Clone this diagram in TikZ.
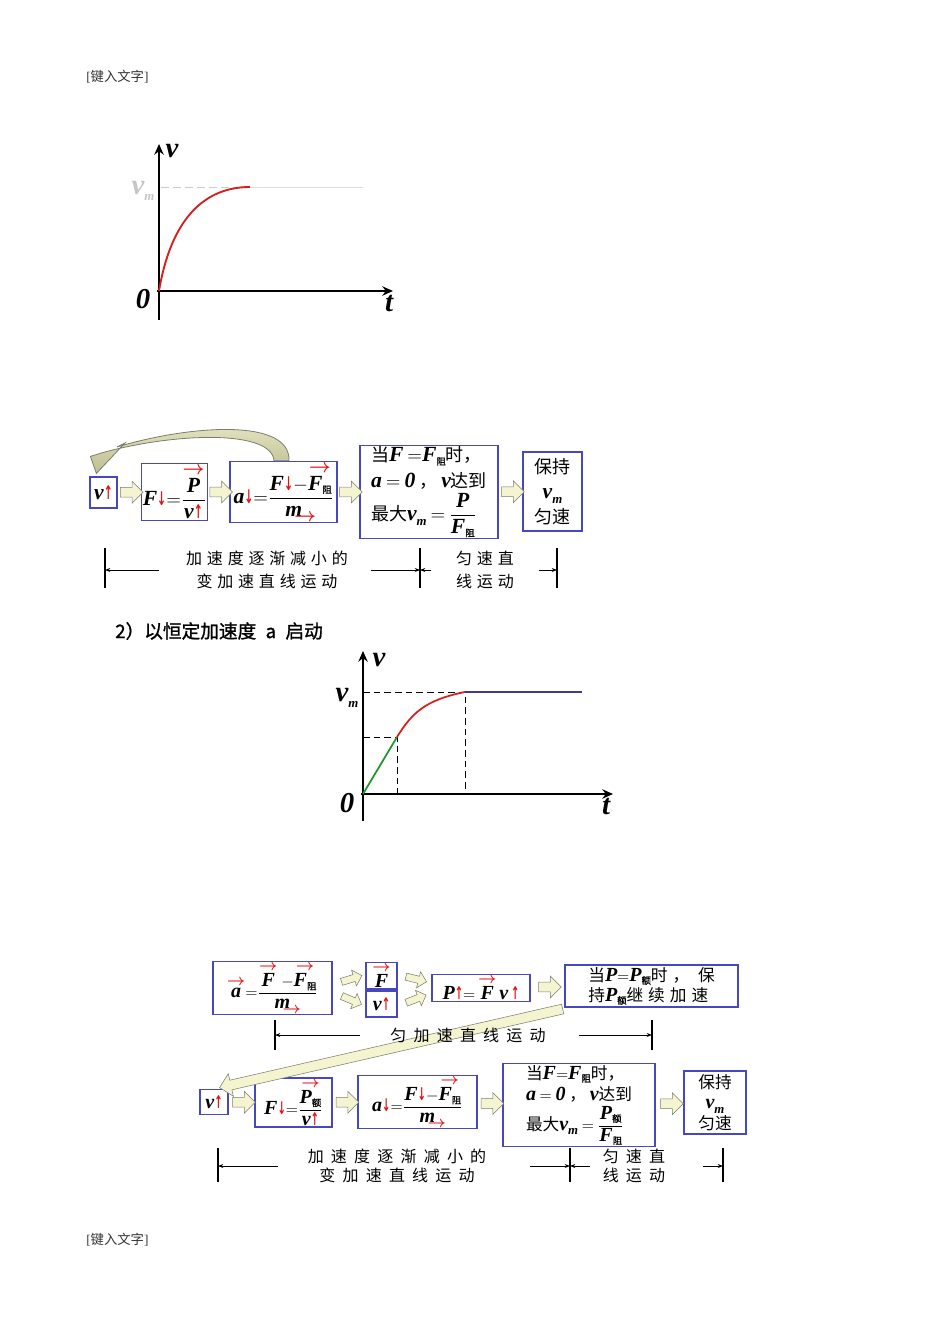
\documentclass[tikz,border=0pt]{standalone}
\usepackage{amsmath}
\usepackage{graphicx}
\usepackage{fontspec}
\setmainfont{Liberation Serif}
\newfontfamily\cjk{Noto Sans CJK SC}
\newfontfamily\cjkb[FakeBold=1.2]{Noto Sans CJK SC}
\newfontfamily\cjkw[LetterSpace=30]{Noto Sans CJK SC}
\newfontfamily\cjkww[LetterSpace=45]{Noto Sans CJK SC}
\newfontfamily\tms[Scale=1.2]{Liberation Serif}
\newfontfamily\djv{DejaVu Sans}
\usetikzlibrary{shapes.arrows}
\usetikzlibrary{arrows.meta}
\usetikzlibrary{calc}

\definecolor{boxblue}{RGB}{72,72,190}
\definecolor{arrred}{RGB}{225,20,20}
\definecolor{beige}{RGB}{244,244,208}
\definecolor{olivelt}{RGB}{232,232,200}
\definecolor{olivedk}{RGB}{190,190,145}
\definecolor{arrgray}{RGB}{125,125,110}
\definecolor{curvegreen}{RGB}{30,150,40}
\definecolor{curvered}{RGB}{215,30,30}
\definecolor{navyline}{RGB}{60,60,150}

% bold italic letters, red arrows, subscripts
\newcommand\bi[1]{{\tms\bfseries\itshape #1}}
\newcommand\arrup{\textcolor{arrred}{\scalebox{0.6}[1.05]{\djv\bfseries ↑}}}
\newcommand\arrdn{\textcolor{arrred}{\scalebox{0.6}[1.05]{\djv\bfseries ↓}}}
\newcommand\zuF{\raisebox{-0.3ex}{\fontsize{7}{7}\selectfont\cjkb 阻}}
\newcommand\ezi{\raisebox{-0.3ex}{\fontsize{7}{7}\selectfont\cjkb 额}}
\newcommand\vmax{\bi{v}\raisebox{-0.5ex}{\fontsize{8}{8}\selectfont\bi{m}}}
\newcommand\vecr[1]{\ensuremath{\overset{\mbox{\textcolor{arrred}{$\boldsymbol{\rightarrow}$}}}{\mbox{#1}}}}
\newcommand\vecu[1]{\mbox{#1\kern-0.45em\raisebox{-0.5ex}{\textcolor{arrred}{$\boldsymbol{\rightarrow}$}}}}
\newcommand\fr[2]{$\dfrac{\mbox{#1}}{\mbox{#2}}$}

\begin{document}
\begin{tikzpicture}[x=0.75pt, y=-0.75pt,
  box/.style={draw=boxblue, line width=0.9pt, inner sep=1pt, align=center},
  bx/.style 2 args={box, minimum width=#1*0.75pt, minimum height=#2*0.75pt},
  fonea/.style={font=\fontsize{13.5}{17}\selectfont\cjk},
  ftwoa/.style={font=\fontsize{12.5}{15}\selectfont\cjk},
  blk/.style={single arrow, draw=arrgray, fill=beige, inner sep=0pt,
    text height=3.5pt, text depth=3.5pt, single arrow head extend=4.5pt,
    minimum height=#1},
  blk/.default=17pt,
  blks/.style={blk=16pt, text height=2.5pt, text depth=2.5pt,
    single arrow head extend=3.5pt},
  blkl/.style={single arrow, draw=arrgray, fill=beige, inner sep=0pt,
    text height=3.5pt, text depth=3.5pt, single arrow head extend=5pt,
    minimum height=#1},
  dimline/.style={-{Stealth[length=4pt,width=3pt]}, line width=0.5pt},
  dimtick/.style={line width=1.1pt},
  dimtxt/.style={font=\fontsize{12}{17}\selectfont\cjkw, align=center},
  dimtxtb/.style={font=\fontsize{12}{14.3}\selectfont\cjkww, align=center},
  vaxis/.style={-{Stealth[length=8pt,width=7pt]}, line width=1.8pt},
  axlbl/.style={font=\fontsize{18}{18}\selectfont, inner sep=0pt},
  hdr/.style={font=\fontsize{10}{12}\selectfont, text=black!80, inner sep=0pt},
  gdash/.style={dashed, dash pattern=on 5pt off 3pt, line width=0.7pt}]
\useasboundingbox (0,0) rectangle (950,1344);

% page header and footer
\node[hdr, anchor=west] (hd) at (86,77) {[{\cjk 键入文字}]};
\node[hdr, anchor=west] (ft) at (86,1240) {[{\cjk 键入文字}]};

% first v-t graph
\coordinate (O1) at (159,291);
\draw[gray!40, dashed, dash pattern=on 6pt off 3pt, line width=0.7pt] (161,187) -- (250,187);
\draw[gray!25, line width=0.7pt] (250,187) -- (363,187);
\draw[vaxis] (159,320) -- (159,144);
\draw[vaxis] (157,291) -- (393,291);
\draw[curvered, line width=1.4pt] (O1) .. controls (170,225) and (200,187) .. (250,187);
\node[axlbl] (lv1) at (172,151) {\bi{v}};
\node[axlbl] (lt1) at (389,304) {\bi{t}};
\node[axlbl] (lo1) at (143,299) {\bi{0}};
\node[axlbl, text=gray!45] (lm1) at (143,191) {\vmax};

% first chain
\node[bx={27}{31}, fonea] (v1) at (103.5,492.5) {\bi{v}\arrup};
\node[bx={65}{48}, fonea] (f1) at (174.5,492) {\bi{F}\arrdn$=$\fr{\vecr{\bi{P}}}{\bi{v}\arrup}};
\node[bx={107}{48}, fonea] (a1) at (283.5,492) {\bi{a}\arrdn$=$\fr{\bi{F}\arrdn$-$\vecr{\bi{F}\zuF}}{\vecu{\bi{m}}}};
\node[bx={138}{90}, font=\fontsize{13.5}{19}\selectfont\cjk, align=left] (s1) at (429,492)
  {当\bi{F} $=$\bi{F}\zuF 时，\\
   \bi{a} $=$ \bi{0} ， \bi{v}达到\\[2pt]
   最大\vmax\ $=$ \fr{\bi{P}}{\bi{F}\zuF}};
\node[bx={59}{79}, font=\fontsize{13.5}{19}\selectfont\cjk] (k1) at (552.5,491.5) {保持\\\vmax\\匀速};
\path (v1.east) -- node[blk] {} (f1.west);
\path (f1.east) -- node[blk] {} (a1.west);
\path (a1.east) -- node[blk] {} (s1.west);
\path (s1.east) -- node[blk] {} (k1.west);
% curved feedback arrow
\path[draw=arrgray, line width=0.6pt, top color=olivelt, bottom color=olivedk]
  ($(a1.north)+(5.5,0)$) .. controls +(2,-43) and +(73,-22) .. (117,447)
  -- ++(8,-4) -- ($(v1.north west)+(7,-3)$) -- ++(-6,-17) -- ++(13,-4)
  .. controls +(74,-20) and +(-2,-31) .. ($(a1.north)+(-9.5,0)$) -- cycle;

% first chain spans
\coordinate (dA) at (105,570);
\coordinate (dB) at (420,570);
\coordinate (dC) at (557,570);
\foreach \c in {dA,dB,dC}
  \draw[dimtick] (\c) ++(0,-22) -- ++(0,40);
\node[dimtxt] (t1) at (267,570) {加速度逐渐减小的\\变加速直线运动};
\node[dimtxt] (t2) at (485,570) {匀速直\\线运动};
\draw[dimline] ($(t1.west)+(-22,0)$) -- (dA);
\draw[dimline] ($(t1.east)+(18,0)$) -- (dB);
\draw[dimline] ($(t2.west)+(-20,0)$) -- (dB);
\draw[dimline] ($(t2.east)+(20,0)$) -- (dC);

% heading
\node[anchor=west, inner sep=0pt, font=\fontsize{14}{16}\selectfont\cjkb] (hd2) at (115,631)
  {2）以恒定加速度\hspace{.5em}a\hspace{.5em}启动};

% second v-t graph
\coordinate (O2) at (363,794);
\draw[gdash] (363,692) -- (465,692) -- (465,794);
\draw[gdash] (363,737) -- (397,737) -- (397,794);
\draw[vaxis] (363,821) -- (363,651);
\draw[vaxis] (361,794) -- (613,794);
\draw[curvegreen, line width=1.3pt] (O2) -- (397,737);
\draw[curvered, line width=1.3pt] (397,737) .. controls (412,713) and (425,700) .. (465,692);
\draw[navyline, line width=1.3pt] (465,692) -- (582,692);
\node[axlbl] (lv2) at (379,660) {\bi{v}};
\node[axlbl] (lt2) at (606,807) {\bi{t}};
\node[axlbl] (lo2) at (347,803) {\bi{0}};
\node[axlbl] (lm2) at (347,698) {\vmax};

% second chain, top row
\node[bx={119}{40}, ftwoa] (a2) at (272.5,988) {\vecr{\bi{a}}$=$\fr{\vecr{\bi{F}} $-$\vecr{\bi{F}\zuF}}{\vecu{\bi{m}}}};
\node[bx={31}{23}, ftwoa] (F2) at (381.5,975.5) {\vecr{\bi{F}}};
\node[bx={31}{26}, ftwoa] (v2) at (381.5,1004) {\bi{v}\arrup};
\node[bx={98}{26}, ftwoa] (P2) at (481,988) {\bi{P}\arrup$=$\,\vecr{\bi{F}}\,\bi{v}\,\arrup};
\node[bx={173}{42}, font=\fontsize{12.5}{15}\selectfont\cjkw, align=left] (q2) at (651.5,986)
  {当\bi{P}$=$\bi{P}\ezi 时，\ 保\\持\bi{P}\ezi 继续加速};
\path ($(a2.east)+(2,-4)$) -- node[blks, sloped] {} ($(F2.west)+(0,-1)$);
\path ($(a2.east)+(2,5)$) -- node[blks, sloped] {} ($(v2.west)+(0,2)$);
\path ($(F2.east)+(0,-1)$) -- node[blks, sloped] {} ($(P2.west)+(0,-5)$);
\path ($(v2.east)+(0,2)$) -- node[blks, sloped] {} ($(P2.west)+(0,5)$);
\path (P2.east) -- node[blk] {} (q2.west);

% second chain, bottom row
\node[bx={28}{25}, ftwoa] (v3) at (214,1102) {\bi{v}\arrup};
\node[bx={77}{39}, ftwoa] (F3) at (293.5,1102.5) {\bi{F}\arrdn$=$\fr{\vecr{\bi{P}\ezi}}{\bi{v}\arrup}};
\node[bx={119}{39}, ftwoa] (a3) at (417.5,1102) {\bi{a}\arrdn$=$\fr{\bi{F}\arrdn$-$\vecr{\bi{F}\zuF}}{\vecu{\bi{m}}}};
\node[bx={152}{76}, font=\fontsize{12.5}{16}\selectfont\cjk, align=left] (s3) at (579,1105)
  {当\bi{F}$=$\bi{F}\zuF 时，\\
   \bi{a} $=$ \bi{0} ， \bi{v}达到\\[2pt]
   最大\vmax\ $=$ \fr{\bi{P}\ezi}{\bi{F}\zuF}};
\node[bx={62}{63}, font=\fontsize{12.5}{15.5}\selectfont\cjk] (k3) at (715,1102.5) {保持\\\vmax\\匀速};
\path (v3.east) -- node[blk] {} (F3.west);
\path (F3.east) -- node[blk] {} (a3.west);
\path (a3.east) -- node[blk] {} (s3.west);
\path (s3.east) -- node[blk] {} (k3.west);
% long return arrow
\path ($(q2.south west)+(0,1)$) -- node[blkl=264pt, sloped, allow upside down] {} ($(v3.north east)+(-6,-2)$);

% second chain, top span
\coordinate (eA) at (275,1035);
\coordinate (eB) at (652,1035);
\foreach \c in {eA,eB}
  \draw[dimtick] (\c) ++(0,-15) -- ++(0,30);
\node[dimtxtb] (t3) at (468,1035) {匀加速直线运动};
\draw[dimline] ($(t3.west)+(-26,0)$) -- (eA);
\draw[dimline] ($(t3.east)+(29,0)$) -- (eB);

% second chain, bottom spans
\coordinate (gA) at (218,1166);
\coordinate (gB) at (570,1166);
\coordinate (gC) at (723,1166);
\foreach \c in {gA,gB,gC}
  \draw[dimtick] (\c) ++(0,-18) -- ++(0,34);
\node[dimtxtb] (t4) at (397,1166) {加速度逐渐减小的\\变加速直线运动};
\node[dimtxtb] (t5) at (634,1166) {匀速直\\线运动};
\draw[dimline] ($(t4.west)+(-25,0)$) -- (gA);
\draw[dimline] ($(t4.east)+(39,0)$) -- (gB);
\draw[dimline] ($(t5.west)+(-8,0)$) -- (gB);
\draw[dimline] ($(t5.east)+(33,0)$) -- (gC);
\end{tikzpicture}
\end{document}
